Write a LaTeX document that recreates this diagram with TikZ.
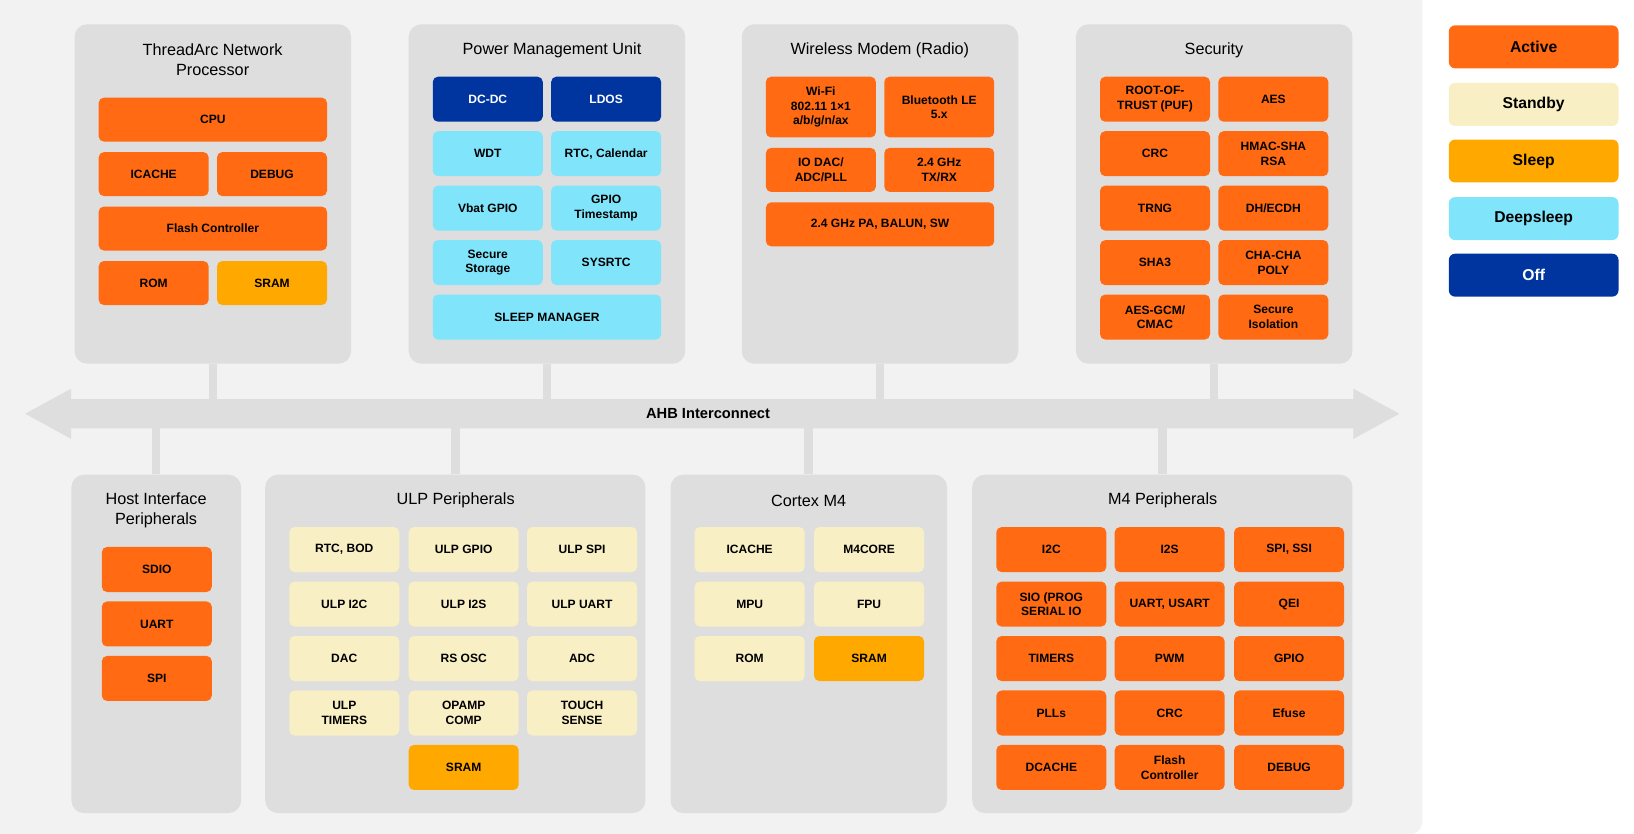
\documentclass[tikz,border=0pt]{standalone}
\usepackage{fontspec}
\setmainfont{Liberation Sans}
\begin{document}
\definecolor{act}{HTML}{FF6A13}
\definecolor{stb}{HTML}{F8EFC4}
\definecolor{slp}{HTML}{FFA800}
\definecolor{dsl}{HTML}{80E5FB}
\definecolor{off}{HTML}{0035A0}
\definecolor{pan}{HTML}{DEDEDE}
\definecolor{bg}{HTML}{F2F2F2}
\begin{tikzpicture}[x=1pt,y=-1pt,
  box/.style={rounded corners=5pt,inner sep=0pt,align=center,font=\bfseries\fontsize{11.5}{14}\selectfont},
  A/.style={box,fill=act},S/.style={box,fill=stb},L/.style={box,fill=slp},
  D/.style={box,fill=dsl},O/.style={box,fill=off,text=white},
  panel/.style={fill=pan,rounded corners=12pt,inner sep=0pt,anchor=north west},
  ptitle/.style={font=\fontsize{15.5}{19}\selectfont,align=center,anchor=center},
  leg/.style={rounded corners=6pt,inner sep=0pt,anchor=north west,minimum width=162pt,minimum height=41pt,font=\bfseries\fontsize{15}{18}\selectfont},
  conn/.style={draw=pan,line width=8pt}]
\newcommand\bx[7]{\node[#6,minimum width=#4pt,minimum height=#5pt,anchor=north west] (#1) at (#2,#3) {#7};}
\useasboundingbox (0,0) rectangle (1560,796);
\fill[white] (0,0) rectangle (1560,796);
\fill[bg,rounded corners=15pt] (-20,-20) rectangle (1358,798);
% bus
\fill[pan] (24,395) -- (68,371) -- (68,381) -- (1292,381) -- (1292,371) -- (1336,395) -- (1292,419) -- (1292,409) -- (68,409) -- (68,419) -- cycle;
\node[font=\bfseries\fontsize{14}{17}\selectfont] (ahb) at (676,395) {AHB Interconnect};
\foreach \n/\x in {b1/203,b2/522,b3/840,b4/1158}{\coordinate (\n) at (\x,381);}
\foreach \n/\x in {c1/149,c2/435,c3/772,c4/1110}{\coordinate (\n) at (\x,409);}
% top panels
\node[panel,minimum width=264pt,minimum height=324pt] (tap) at (71,23) {};
\node[panel,minimum width=264pt,minimum height=324pt] (pmu) at (390,23) {};
\node[panel,minimum width=264pt,minimum height=324pt] (wm) at (708,23) {};
\node[panel,minimum width=264pt,minimum height=324pt] (sec) at (1027,23) {};
\draw[conn] (tap.south) -- (tap.south |- b1);
\draw[conn] (pmu.south) -- (pmu.south |- b2);
\draw[conn] (wm.south) -- (wm.south |- b3);
\draw[conn] (sec.south) -- (sec.south |- b4);
\node[ptitle] at (203,57) {ThreadArc Network\\Processor};
\node[ptitle] at (527,48) {Power Management Unit};
\node[ptitle] at (840,48) {Wireless Modem (Radio)};
\node[ptitle] at (1159,48) {Security};
% ThreadArc
\bx{cpu}{94}{93}{218}{42}{A}{CPU}
\bx{ic}{94}{145}{105}{42}{A}{ICACHE}
\bx{dbg}{207}{145}{105}{42}{A}{DEBUG}
\bx{fc}{94}{197}{218}{42}{A}{Flash Controller}
\bx{rom}{94}{249}{105}{42}{A}{ROM}
\bx{sram}{207}{249}{105}{42}{L}{SRAM}
% PMU
\bx{dcdc}{413}{73}{105}{43}{O}{DC-DC}
\bx{ldo}{526}{73}{105}{43}{O}{LDOS}
\bx{wdt}{413}{125}{105}{43}{D}{WDT}
\bx{rtc}{526}{125}{105}{43}{D}{RTC, Calendar}
\bx{vb}{413}{177}{105}{43}{D}{Vbat GPIO}
\bx{gts}{526}{177}{105}{43}{D}{GPIO\\Timestamp}
\bx{ss}{413}{229}{105}{43}{D}{Secure\\Storage}
\bx{sys}{526}{229}{105}{43}{D}{SYSRTC}
\bx{slm}{413}{281}{218}{43}{D}{SLEEP MANAGER}
% Wireless
\bx{wifi}{731}{73}{105}{58}{A}{Wi-Fi\\802.11 1×1\\a/b/g/n/ax}
\bx{ble}{844}{73}{105}{58}{A}{Bluetooth LE\\5.x}
\bx{iod}{731}{141}{105}{42}{A}{IO DAC/\\ADC/PLL}
\bx{txrx}{844}{141}{105}{42}{A}{2.4 GHz\\TX/RX}
\bx{pa}{731}{193}{218}{42}{A}{2.4 GHz PA, BALUN, SW}
% Security
\bx{rot}{1050}{73}{105}{43}{A}{ROOT-OF-\\TRUST (PUF)}
\bx{aes}{1163}{73}{105}{43}{A}{AES}
\bx{crc}{1050}{125}{105}{43}{A}{CRC}
\bx{hmac}{1163}{125}{105}{43}{A}{HMAC-SHA\\RSA}
\bx{trng}{1050}{177}{105}{43}{A}{TRNG}
\bx{dh}{1163}{177}{105}{43}{A}{DH/ECDH}
\bx{sha}{1050}{229}{105}{43}{A}{SHA3}
\bx{cha}{1163}{229}{105}{43}{A}{CHA-CHA\\POLY}
\bx{gcm}{1050}{281}{105}{43}{A}{AES-GCM/\\CMAC}
\bx{siso}{1163}{281}{105}{43}{A}{Secure\\Isolation}
% bottom panels
\node[panel,minimum width=162pt,minimum height=323pt] (hip) at (68,453) {};
\node[panel,minimum width=363pt,minimum height=323pt] (ulp) at (253,453) {};
\node[panel,minimum width=264pt,minimum height=323pt] (m4) at (640,453) {};
\node[panel,minimum width=363pt,minimum height=323pt] (m4p) at (928,453) {};
\draw[conn] (c1) -- (c1 |- hip.north);
\draw[conn] (c2) -- (c2 |- ulp.north);
\draw[conn] (c3) -- (c3 |- m4.north);
\draw[conn] (c4) -- (c4 |- m4p.north);
\node[ptitle] at (149,487) {Host Interface\\Peripherals};
\node[ptitle] at (435,478) {ULP Peripherals};
\node[ptitle] at (772,478) {Cortex M4};
\node[ptitle] at (1110,478) {M4 Peripherals};
% Host
\bx{sdio}{97}{522}{105}{43}{A}{SDIO}
\bx{uart}{97}{574}{105}{43}{A}{UART}
\bx{spi}{97}{626}{105}{43}{A}{SPI}
% ULP
\bx{u1}{276}{503}{105}{43}{S}{RTC, BOD}
\bx{u2}{390}{503}{105}{43}{S}{ULP GPIO}
\bx{u3}{503}{503}{105}{43}{S}{ULP SPI}
\bx{u4}{276}{555}{105}{43}{S}{ULP I2C}
\bx{u5}{390}{555}{105}{43}{S}{ULP I2S}
\bx{u6}{503}{555}{105}{43}{S}{ULP UART}
\bx{u7}{276}{607}{105}{43}{S}{DAC}
\bx{u8}{390}{607}{105}{43}{S}{RS OSC}
\bx{u9}{503}{607}{105}{43}{S}{ADC}
\bx{u10}{276}{659}{105}{43}{S}{ULP\\TIMERS}
\bx{u11}{390}{659}{105}{43}{S}{OPAMP\\COMP}
\bx{u12}{503}{659}{105}{43}{S}{TOUCH\\SENSE}
\bx{u13}{390}{711}{105}{43}{L}{SRAM}
% Cortex
\bx{m1}{663}{503}{105}{43}{S}{ICACHE}
\bx{m2}{777}{503}{105}{43}{S}{M4CORE}
\bx{m3}{663}{555}{105}{43}{S}{MPU}
\bx{m4b}{777}{555}{105}{43}{S}{FPU}
\bx{m5}{663}{607}{105}{43}{S}{ROM}
\bx{m6}{777}{607}{105}{43}{L}{SRAM}
% M4 peripherals
\bx{p1}{951}{503}{105}{43}{A}{I2C}
\bx{p2}{1064}{503}{105}{43}{A}{I2S}
\bx{p3}{1178}{503}{105}{43}{A}{SPI, SSI}
\bx{p4}{951}{555}{105}{43}{A}{SIO (PROG\\SERIAL IO}
\bx{p5}{1064}{555}{105}{43}{A}{UART, USART}
\bx{p6}{1178}{555}{105}{43}{A}{QEI}
\bx{p7}{951}{607}{105}{43}{A}{TIMERS}
\bx{p8}{1064}{607}{105}{43}{A}{PWM}
\bx{p9}{1178}{607}{105}{43}{A}{GPIO}
\bx{p10}{951}{659}{105}{43}{A}{PLLs}
\bx{p11}{1064}{659}{105}{43}{A}{CRC}
\bx{p12}{1178}{659}{105}{43}{A}{Efuse}
\bx{p13}{951}{711}{105}{43}{A}{DCACHE}
\bx{p14}{1064}{711}{105}{43}{A}{Flash\\Controller}
\bx{p15}{1178}{711}{105}{43}{A}{DEBUG}
% legend
\node[leg,fill=act] (la) at (1383,24) {Active};
\node[leg,fill=stb] (ls) at (1383,79) {Standby};
\node[leg,fill=slp] (ll) at (1383,133) {Sleep};
\node[leg,fill=dsl] (ld) at (1383,188) {Deepsleep};
\node[leg,fill=off,text=white] (lo) at (1383,242) {Off};
\end{tikzpicture}
\end{document}
